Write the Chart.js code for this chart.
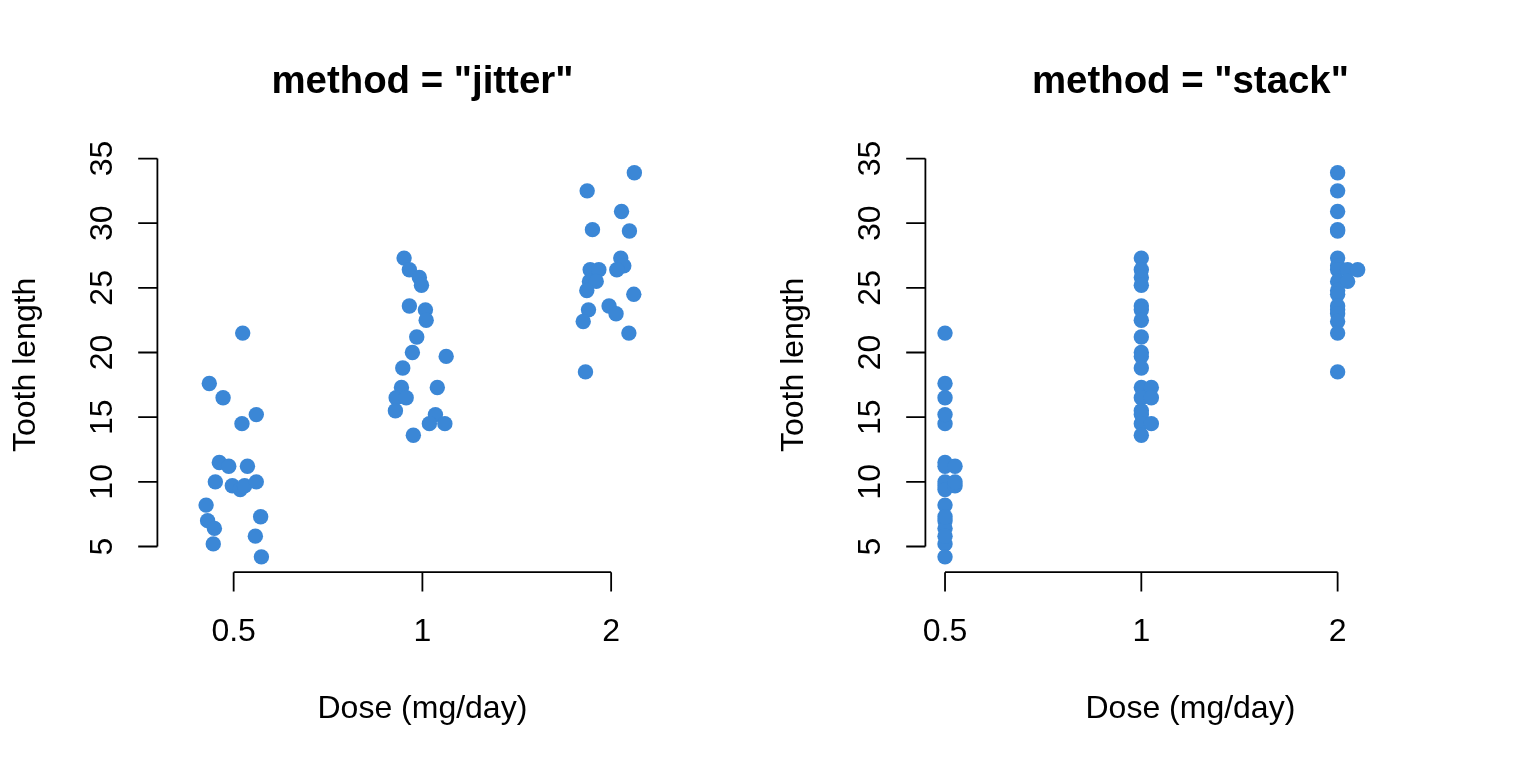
<!DOCTYPE html>
<html>
<head>
<meta charset="utf-8">
<script src="https://cdn.jsdelivr.net/npm/chart.js@4/dist/chart.umd.min.js"></script>
<style>
  html, body { margin: 0; padding: 0; background: #fff; }
  #wrap { position: relative; width: 1536px; height: 768px; }
  .panel { position: absolute; top: 0; width: 768px; height: 768px; }
</style>
</head>
<body>
<div id="wrap">
  <div class="panel" style="left:0"><canvas id="jitter-canvas" width="768" height="768"></canvas></div>
  <div class="panel" style="left:768px"><canvas id="stack-canvas" width="768" height="768"></canvas></div>
</div>
<script>
// ToothGrowth: tooth length by dose
var doseLabels = ['0.5', '1', '2']
var yTicks = [5, 10, 15, 20, 25, 30, 35]

var len05 = [17.6, 16.5, 14.5, 15.2, 11.5, 11.2, 11.2, 10.0, 9.7, 9.4, 9.7, 10.0, 8.2, 7.0, 6.4, 5.2, 7.3, 5.8, 4.2, 21.5]
var len1 = [27.3, 26.4, 25.8, 25.2, 23.6, 23.3, 22.5, 21.2, 20.0, 19.7, 18.8, 17.3, 17.3, 16.5, 16.5, 15.5, 15.2, 14.5, 14.5, 13.6]
var len2 = [33.9, 32.5, 30.9, 29.5, 29.4, 27.3, 26.7, 26.4, 26.4, 26.4, 25.5, 25.5, 24.8, 24.5, 23.3, 23.6, 23.0, 22.4, 21.5, 18.5]

// jitter offsets (group units) as seen in the left panel
var jit05 = [-0.129, -0.056, 0.044, 0.120, -0.076, -0.026, 0.073, -0.097, -0.007, 0.035, 0.058, 0.120, -0.146, -0.138, -0.102, -0.108, 0.143, 0.115, 0.147, 0.048]
var jit1 = [-0.097, -0.069, -0.016, -0.005, -0.069, 0.016, 0.020, -0.030, -0.053, 0.126, -0.104, -0.111, 0.079, -0.139, -0.086, -0.143, 0.069, 0.037, 0.119, -0.048]
var jit2 = [0.123, -0.127, 0.055, -0.099, 0.097, 0.051, 0.067, 0.030, -0.111, -0.065, -0.115, -0.079, -0.129, 0.120, -0.120, -0.011, 0.026, -0.148, 0.094, -0.136]

var groups = [len05, len1, len2]
var jitters = [jit05, jit1, jit2]

var blue = 'rgb(59, 135, 214)'
var FONT = '"Liberation Sans", Arial, Helvetica, sans-serif'

function jitterPoints() {
    var pts = []
    groups.forEach(function (vals, g) {
        vals.forEach(function (v, i) {
            pts.push({ x: g + 1 + jitters[g][i], y: v })
        })
    })
    return pts
}

// stack method: repeated values are set side by side to the right
function stackPoints() {
    var pts = []
    var step = 0.051
    groups.forEach(function (vals, g) {
        var seen = {}
        vals.forEach(function (v) {
            var k = seen[v] || 0
            seen[v] = k + 1
            pts.push({ x: g + 1 + k * step, y: v })
        })
    })
    return pts
}

// R style axes, drawn through the chart's own scales
var baseAxes = {
    id: 'baseAxes',
    afterDraw: function (chart, args, opts) {
        var c = chart.ctx
        var xs = chart.scales.x
        var ys = chart.scales.y
        var area = chart.chartArea
        var tick = 19.2
        c.save()
        c.strokeStyle = '#000'
        c.fillStyle = '#000'
        c.lineWidth = 1.8

        // y axis
        var yTop = ys.getPixelForValue(yTicks[yTicks.length - 1])
        var yBot = ys.getPixelForValue(yTicks[0])
        c.beginPath()
        c.moveTo(area.left, yTop)
        c.lineTo(area.left, yBot)
        yTicks.forEach(function (t) {
            var py = ys.getPixelForValue(t)
            c.moveTo(area.left - tick, py)
            c.lineTo(area.left, py)
        })
        c.stroke()
        c.font = '32px ' + FONT
        c.textAlign = 'center'
        c.textBaseline = 'alphabetic'
        yTicks.forEach(function (t) {
            c.save()
            c.translate(area.left - 45.5, ys.getPixelForValue(t))
            c.rotate(-Math.PI / 2)
            c.fillText(String(t), 0, 0)
            c.restore()
        })

        // x axis
        var xL = xs.getPixelForValue(1)
        var xR = xs.getPixelForValue(doseLabels.length)
        c.beginPath()
        c.moveTo(xL, area.bottom)
        c.lineTo(xR, area.bottom)
        doseLabels.forEach(function (lab, i) {
            var px = xs.getPixelForValue(i + 1)
            c.moveTo(px, area.bottom)
            c.lineTo(px, area.bottom + tick)
        })
        c.stroke()
        doseLabels.forEach(function (lab, i) {
            c.fillText(lab, xs.getPixelForValue(i + 1), area.bottom + 68.4)
        })

        // axis titles
        var midX = (area.left + area.right) / 2
        var midY = (area.top + area.bottom) / 2
        c.fillText('Dose (mg/day)', midX, area.bottom + 145.4)
        c.save()
        c.translate(area.left - 122.5, midY)
        c.rotate(-Math.PI / 2)
        c.fillText('Tooth length', 0, 0)
        c.restore()

        // main title
        c.font = 'bold 38.4px ' + FONT
        c.fillText(opts.title, midX, 92.5)
        c.restore()
    }
}

function makeChart(id, title, points, xMin, xMax) {
    var ctx = document.getElementById(id).getContext('2d')
    return new Chart(ctx, {
        type: 'scatter',
        data: {
            datasets: [{
                data: points,
                backgroundColor: blue,
                borderWidth: 0,
                pointRadius: 7.7,
                pointHoverRadius: 7.7,
                clip: false
            }]
        },
        options: {
            responsive: false,
            animation: false,
            events: [],
            layout: {
                padding: { left: 157.4, right: 80.6, top: 157.4, bottom: 195.8 }
            },
            scales: {
                x: { type: 'linear', min: xMin, max: xMax, display: false },
                y: { type: 'linear', min: 3.012, max: 35.088, display: false }
            },
            plugins: {
                legend: { display: false },
                tooltip: { enabled: false },
                baseAxes: { title: title }
            }
        },
        plugins: [baseAxes]
    })
}

makeChart('jitter-canvas', 'method = "jitter"', jitterPoints(), 0.596, 3.404)
makeChart('stack-canvas', 'method = "stack"', stackPoints(), 0.9, 3.6)
</script>
</body>
</html>
